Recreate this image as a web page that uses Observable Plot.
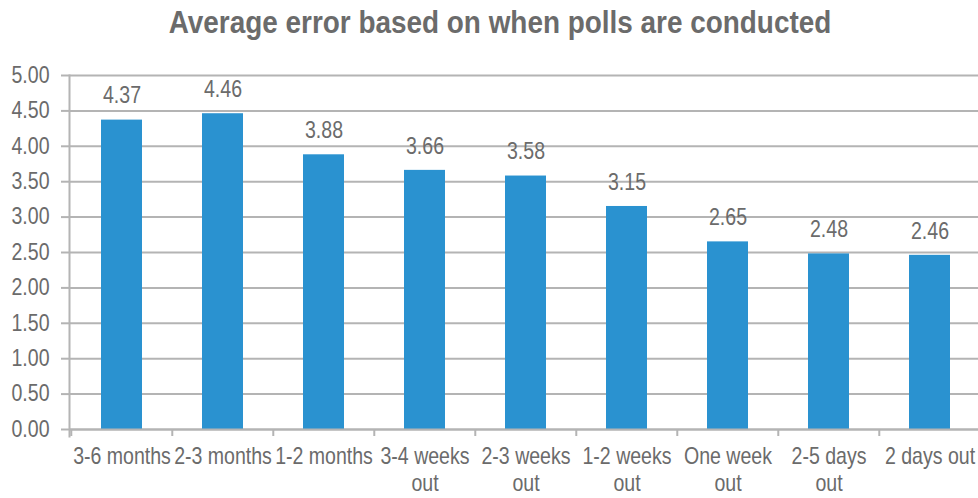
<!DOCTYPE html>
<html>
<head>
<meta charset="utf-8">
<script src="https://cdn.jsdelivr.net/npm/d3@7"></script>
<script src="https://cdn.jsdelivr.net/npm/@observablehq/plot@0.6"></script>
<style>
  html, body { margin: 0; padding: 0; background: #fff; }
  #titlewrap { width: 978px; height: 48px; position: relative; overflow: hidden; }
  #title {
    position: absolute; left: 500px; top: 0; white-space: nowrap;
    transform: translateX(-50%) scaleX(0.9);
    font-family: "Liberation Sans", Arial, sans-serif;
    font-weight: bold; font-size: 31px; color: #6b6b6b; line-height: 46px;
  }
</style>
</head>
<body>
<div id="titlewrap"><div id="title">Average error based on when polls are conducted</div></div>
<div id="chart"></div>
<script>
const categories = ["3-6 months", "2-3 months", "1-2 months", "3-4 weeks\nout", "2-3 weeks\nout", "1-2 weeks\nout", "One week\nout", "2-5 days\nout", "2 days out"];
const values = [4.37, 4.46, 3.88, 3.66, 3.58, 3.15, 2.65, 2.48, 2.46];
const yTicks = [0, 0.5, 1, 1.5, 2, 2.5, 3, 3.5, 4, 4.5, 5];

const data = categories.map((c, i) => ({category: c, value: values[i]}));
const font = "'Liberation Sans', Arial, sans-serif";
const textColor = "#6b6b6b";
const gridColor = "#b4b4b4";
const x0 = 69, x1 = 982;
const step = (x1 - x0) / categories.length;

const chart = Plot.plot({
  width: 978,
  height: 450,
  marginTop: 27,
  marginBottom: 69,
  marginLeft: 69,
  marginRight: 0,
  style: {fontFamily: font, fontSize: "23px", color: textColor, background: "#fff", overflow: "visible"},
  x: {domain: categories, range: [x0, x1], paddingInner: 0.59, paddingOuter: 0.295, align: 0.5},
  y: {domain: [0, 5], ticks: yTicks},
  marks: [
    Plot.gridY(yTicks, {stroke: gridColor, strokeOpacity: 1, strokeWidth: 2}),
    Plot.barY(data, {x: "category", y: "value", fill: "#2a92d0"}),
    Plot.ruleY([0], {stroke: gridColor, strokeWidth: 2}),
    Plot.frame({anchor: "left", stroke: gridColor, strokeWidth: 2, insetBottom: -7}),
    Plot.ruleX(categories, {x: d => d, dx: -step / 2, y1: 0, y2: 0, insetBottom: -7, stroke: gridColor, strokeWidth: 2}),
    Plot.axisY(yTicks, {tickSize: 8, tickPadding: 12, stroke: gridColor, strokeWidth: 2, tickFormat: d => d.toFixed(2), label: null, fill: textColor, fontSize: 23}),
    Plot.axisX({tickSize: 0, tickPadding: 16, label: null, fill: textColor, fontSize: 23, lineHeight: 1.16}),
    Plot.text(data, {x: "category", y: "value", text: d => d.value.toFixed(2), dy: -24, fill: textColor, fontSize: 23})
  ]
});
// condense glyphs horizontally (the reference uses a narrow typeface)
d3.select(chart).selectAll("text").each(function () {
  const t = this.getAttribute("transform") || "";
  this.setAttribute("transform", t + " scale(0.85,1)");
});
document.getElementById("chart").appendChild(chart);
</script>
</body>
</html>
